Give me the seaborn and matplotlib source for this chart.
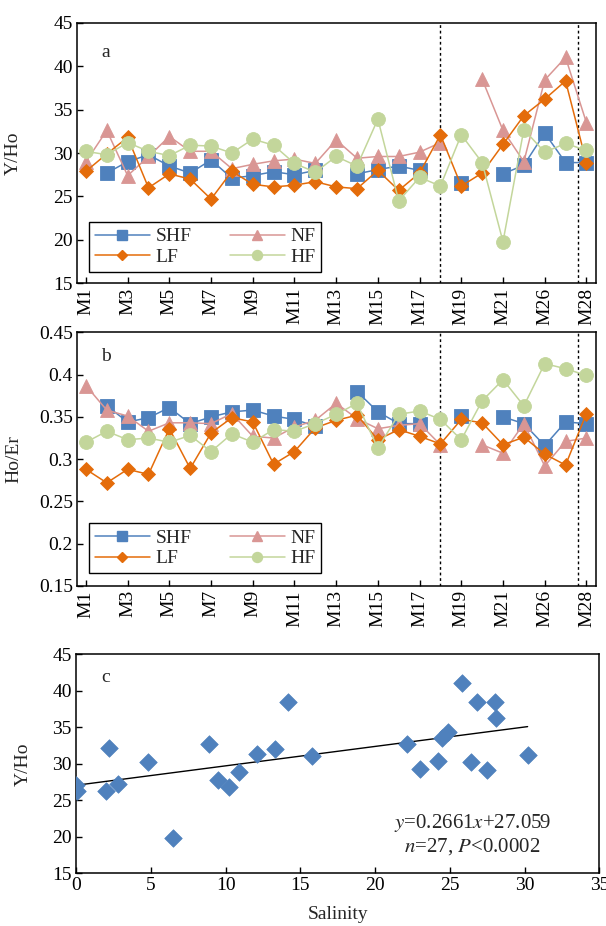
import numpy as np
import pandas as pd
import matplotlib
matplotlib.use('Agg')
import matplotlib.pyplot as plt
from matplotlib.lines import Line2D
from matplotlib.ticker import FuncFormatter
import seaborn as sns

nan = np.nan

# ---------------- data ----------------
sites = ['M1', 'M2', 'M3', 'M4', 'M5', 'M6', 'M7', 'M8', 'M9', 'M10', 'M11', 'M12',
         'M13', 'M14', 'M15', 'M16', 'M17', 'M18', 'M19', 'M20', 'M21', 'M24',
         'M26', 'M27', 'M28']

series_names = ['SHF', 'NF', 'LF', 'HF']

shf_yho = [nan, 27.7, 29.0, 29.8, 28.5, 27.7, 29.2, 27.1, 27.4, 27.85, 27.5, 28.0, nan,
           27.6, 28.1, 28.5, 28.0, nan, 26.6, nan, 27.6, 28.6, 32.3, 28.9, 28.9]
nf_yho = [29.0, 32.6, 27.4, 29.6, 31.9, 30.2, 30.2, 28.2, 28.7, 29.1, 29.3, 28.8, 31.5,
          29.4, 29.6, 29.6, 30.1, 31.2, nan, 38.5, 32.6, 29.0, 38.4, 41.0, 33.5]
lf_yho = [27.9, 29.9, 31.8, 26.0, 27.6, 27.0, 24.7, 27.9, 26.4, 26.1, 26.3, 26.7, 26.1,
          25.9, 28.0, 25.7, 27.7, 32.1, 26.2, 27.7, 31.0, 34.3, 36.2, 38.3, 28.9]
hf_yho = [30.2, 29.8, 31.2, 30.2, 29.7, 30.9, 30.8, 30.0, 31.6, 30.9, 28.8, 27.8, 29.6,
          28.5, 33.9, 24.5, 27.2, 26.2, 32.1, 28.9, 19.8, 32.7, 30.1, 31.1, 30.3]

shf_hoer = [nan, 0.363, 0.344, 0.349, 0.361, 0.342, 0.350, 0.356, 0.358, 0.351, 0.347, 0.339, nan,
            0.380, 0.356, 0.342, 0.342, nan, 0.351, nan, 0.350, 0.342, 0.316, 0.344, 0.342]
nf_hoer = [0.387, 0.358, 0.351, 0.333, 0.343, 0.343, 0.342, 0.354, 0.327, 0.325, 0.338, 0.346, 0.366,
           0.348, 0.336, 0.340, 0.342, 0.317, nan, 0.317, 0.307, 0.342, 0.292, 0.321, 0.325]
lf_hoer = [0.288, 0.272, 0.288, 0.282, 0.336, 0.289, 0.331, 0.349, 0.344, 0.294, 0.309, 0.337, 0.346,
           0.352, 0.323, 0.335, 0.327, 0.318, 0.347, 0.343, 0.317, 0.326, 0.306, 0.293, 0.354]
hf_hoer = [0.320, 0.333, 0.323, 0.325, 0.320, 0.328, 0.309, 0.330, 0.320, 0.335, 0.333, 0.342, 0.353,
           0.366, 0.313, 0.353, 0.357, 0.347, 0.323, 0.369, 0.394, 0.363, 0.413, 0.407, 0.399]

salinity = [0.0, 0.1, 2.0, 2.2, 2.8, 4.8, 6.5, 8.9, 9.5, 10.2, 10.9, 12.1, 13.3, 14.2, 15.75,
            22.15, 23.0, 24.2, 24.45, 24.9, 25.8, 26.4, 26.8, 27.5, 28.0, 28.1, 30.2]
yho_scatter = [27.1, 26.3, 26.3, 32.2, 27.3, 30.2, 19.8, 32.7, 27.8, 26.8, 28.9, 31.4, 32.0, 38.5, 31.1,
               32.7, 29.25, 30.4, 33.6, 34.4, 41.1, 30.2, 38.4, 29.1, 38.4, 36.3, 31.2]
reg_slope = 0.2661
reg_intercept = 27.059

divider_positions = [17, 23.6]

# ---------------- style ----------------
sns.set_style('ticks')
plt.rcParams['font.family'] = ['Liberation Serif', 'DejaVu Serif']
plt.rcParams['mathtext.fontset'] = 'stix'
FS = 14

colors = {'SHF': '#4F81BD', 'NF': '#D99694', 'LF': '#E46C0A', 'HF': '#C3D69B'}
markers = {'SHF': 's', 'NF': '^', 'LF': 'D', 'HF': 'o'}
msizes = {'SHF': 9.5, 'NF': 10, 'LF': 7.0, 'HF': 10}

fig = plt.figure(figsize=(6.06, 9.26), dpi=100)
ax_a = fig.add_axes([0.127, 0.694, 0.8565, 0.2815])
ax_b = fig.add_axes([0.127, 0.3672, 0.8565, 0.2739])
ax_c = fig.add_axes([0.1254, 0.0569, 0.8637, 0.2365])


def draw_series(ax, values, name):
    y = np.asarray(values, float)
    df = pd.DataFrame({'x': np.arange(len(y)), 'y': y,
                       'seg': np.cumsum(np.isnan(y))}).dropna()
    c = colors[name]
    sns.lineplot(data=df, x='x', y='y', units='seg', estimator=None, ax=ax,
                 color=c, marker=markers[name], markersize=msizes[name],
                 markeredgecolor=c, markeredgewidth=0.6, linewidth=1.1,
                 legend=False)


def style_box(ax):
    for s in ax.spines.values():
        s.set_visible(True)
        s.set_color('black')
        s.set_linewidth(1.1)
    ax.tick_params(direction='in', length=4, width=1, labelsize=FS,
                   colors='black', top=False, right=False, pad=3)


def add_legend(ax, y0):
    order = ['SHF', 'LF', 'NF', 'HF']
    handles = [Line2D([], [], color=colors[n], marker=markers[n],
                      markersize=msizes[n] * 0.72, markeredgecolor=colors[n],
                      lw=1.1) for n in order]
    leg = ax.legend(handles, order, ncol=2, loc='lower left',
                    bbox_to_anchor=(0.0237, y0), borderaxespad=0,
                    frameon=True, fancybox=False, edgecolor='black',
                    framealpha=1, fontsize=FS, handlelength=2.8,
                    handletextpad=0.3, columnspacing=2.0, borderpad=0.3,
                    labelspacing=0.15)
    leg.get_frame().set_linewidth(1.0)


series_a = {'SHF': shf_yho, 'NF': nf_yho, 'LF': lf_yho, 'HF': hf_yho}
series_b = {'SHF': shf_hoer, 'NF': nf_hoer, 'LF': lf_hoer, 'HF': hf_hoer}

for ax, series, ylim, yticks, ylabel, letter, ly, legy in [
        (ax_a, series_a, (15, 45), np.arange(15, 46, 5), 'Y/Ho', 'a', 0.885, 0.0445),
        (ax_b, series_b, (0.15, 0.45), np.arange(0.15, 0.451, 0.05), 'Ho/Er', 'b', 0.904, 0.05)]:
    for n in series_names:
        draw_series(ax, series[n], n)
    for xv in divider_positions:
        ax.axvline(xv, color='black', lw=1.0, ls=(0, (2, 2)), zorder=1)
    ax.set_xlim(-0.43, 24.46)
    ax.set_ylim(*ylim)
    ax.set_yticks(yticks)
    ax.set_xticks(np.arange(0, len(sites), 2))
    ax.set_xticklabels(sites[::2], rotation=90)
    ax.set_xlabel('')
    ax.set_ylabel(ylabel, fontsize=FS)
    ax.yaxis.set_label_coords(-0.106, 0.5)
    style_box(ax)
    ax.text(0.056, ly, letter, transform=ax.transAxes, fontsize=FS,
            ha='center', va='center')
    add_legend(ax, legy)

ax_b.yaxis.set_major_formatter(FuncFormatter(lambda v, p: '%g' % round(v, 2)))

# ---------------- panel c ----------------
sns.scatterplot(x=salinity, y=yho_scatter, ax=ax_c, marker='D', s=80,
                color='#4F81BD', edgecolor='#4F81BD', linewidth=0.5, zorder=3)
xfit = np.array([min(salinity), max(salinity)])
sns.lineplot(x=xfit, y=reg_slope * xfit + reg_intercept, ax=ax_c,
             color='black', lw=1.0, zorder=2)
ax_c.set_xlim(0, 35)
ax_c.set_ylim(15, 45)
ax_c.set_xticks(np.arange(0, 36, 5))
ax_c.set_yticks(np.arange(15, 46, 5))
ax_c.set_ylabel('Y/Ho', fontsize=FS)
ax_c.yaxis.set_label_coords(-0.084, 0.5)
ax_c.set_xlabel('Salinity', fontsize=FS)
ax_c.xaxis.set_label_coords(0.5, -0.15)
style_box(ax_c)
ax_c.text(0.057, 0.892, 'c', transform=ax_c.transAxes, fontsize=FS,
          ha='center', va='center')
ax_c.text(26.5, 21.9, r'$\it{y}$=0.2661$\it{x}$+27.059', fontsize=FS + 1,
          ha='center', va='center')
ax_c.text(26.5, 18.6, r'$\it{n}$=27, $\it{P}$<0.0002', fontsize=FS + 1,
          ha='center', va='center')

fig.savefig('out.png', dpi=100)
